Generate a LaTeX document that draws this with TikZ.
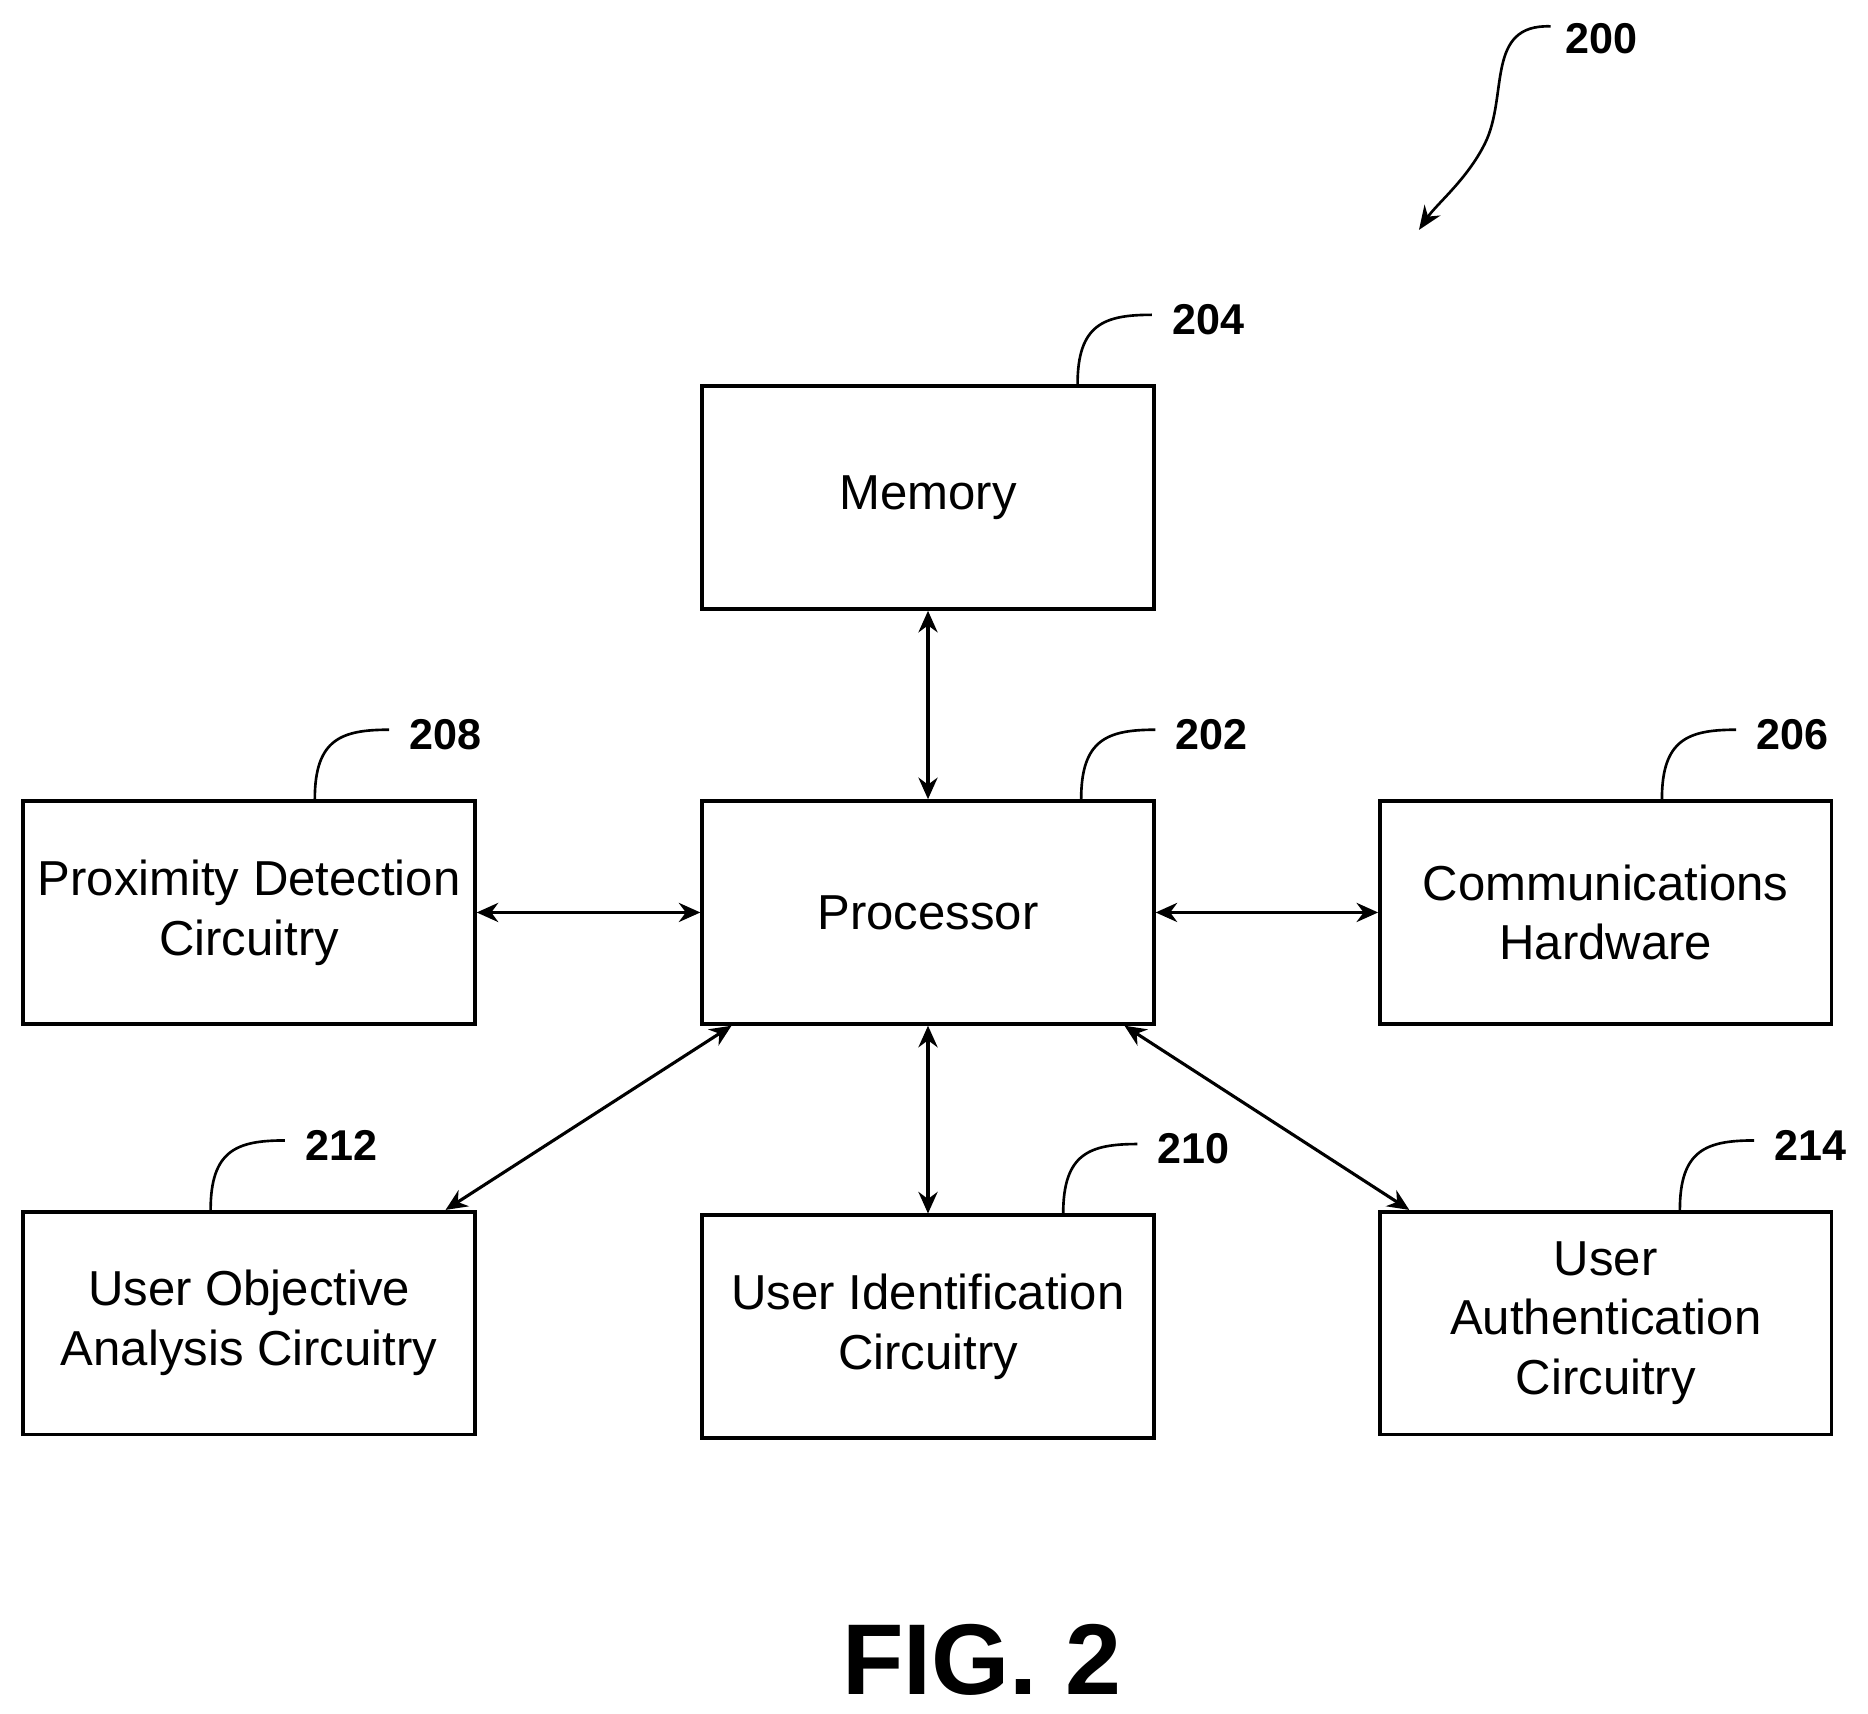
\documentclass[tikz,border=0pt]{standalone}
\usepackage{fontspec}
\setmainfont{Liberation Sans}
\usetikzlibrary{arrows.meta}
\begin{document}
\begin{tikzpicture}[x=0.5pt,y=-0.5pt,
  box/.style={draw,line width=1.6pt,minimum width=188.5pt,minimum height=93pt,inner sep=0pt,align=center,font=\fontsize{20.5}{25}\selectfont},
  conn/.style={line width=1.3pt,{Stealth[length=9pt,width=8pt]}-{Stealth[length=9pt,width=8pt]}},
  lead/.style={line width=1.1pt},
  lab/.style={font=\bfseries\fontsize{18}{20}\selectfont,anchor=west}]
\useasboundingbox (0,0) rectangle (1560,1431);
\node[box] (mem) at (775,415.5) {Memory};
\node[box] (proc) at (775,762) {Processor};
\node[box] (prox) at (208,762) {Proximity Detection\\Circuitry};
\node[box] (comm) at (1341,762) {Communications\\Hardware};
\node[box] (uoa) at (208,1105) {User Objective\\Analysis Circuitry};
\node[box] (uid) at (775,1108) {User Identification\\Circuitry};
\node[box] (uau) at (1341,1105) {User\\Authentication\\Circuitry};
\draw[conn] (mem.south) -- (proc.north);
\draw[conn] (prox.east) -- (proc.west);
\draw[conn] (proc.east) -- (comm.west);
\draw[conn] ([xshift=13pt]proc.south west) -- ([xshift=-13pt]uoa.north east);
\draw[conn] (proc.south) -- (uid.north);
\draw[conn] ([xshift=-13pt]proc.south east) -- ([xshift=13pt]uau.north west);
% leaders
\foreach \n/\xo/\t in {mem/315/204, proc/318/202, prox/245/208, comm/237/206, uoa/158/212, uid/303/210, uau/252/214}{
  \coordinate (a\n) at ([xshift=\xo*0.5pt]\n.north west);
  \draw[lead] (a\n) .. controls ++(0,-50) and ++(-40,0) .. ++(62,-58) coordinate (b\n);
  \node[lab] at ([xshift=5pt,yshift=-2pt]b\n) {\t};
}
\coordinate (s200) at (1295,22);
\coordinate (e200) at (1185,192);
\draw[lead,-{Stealth[length=10pt,width=8pt]}] (s200) .. controls (1240,20) and (1260,80) .. (1240,120) .. controls (1225,150) and (1200,170) .. (e200);
\node[lab] at (1300,32) {200};
\node[font=\bfseries\fontsize{42}{44}\selectfont] (fig) at (820,1386) {FIG. 2};
\end{tikzpicture}
\end{document}
